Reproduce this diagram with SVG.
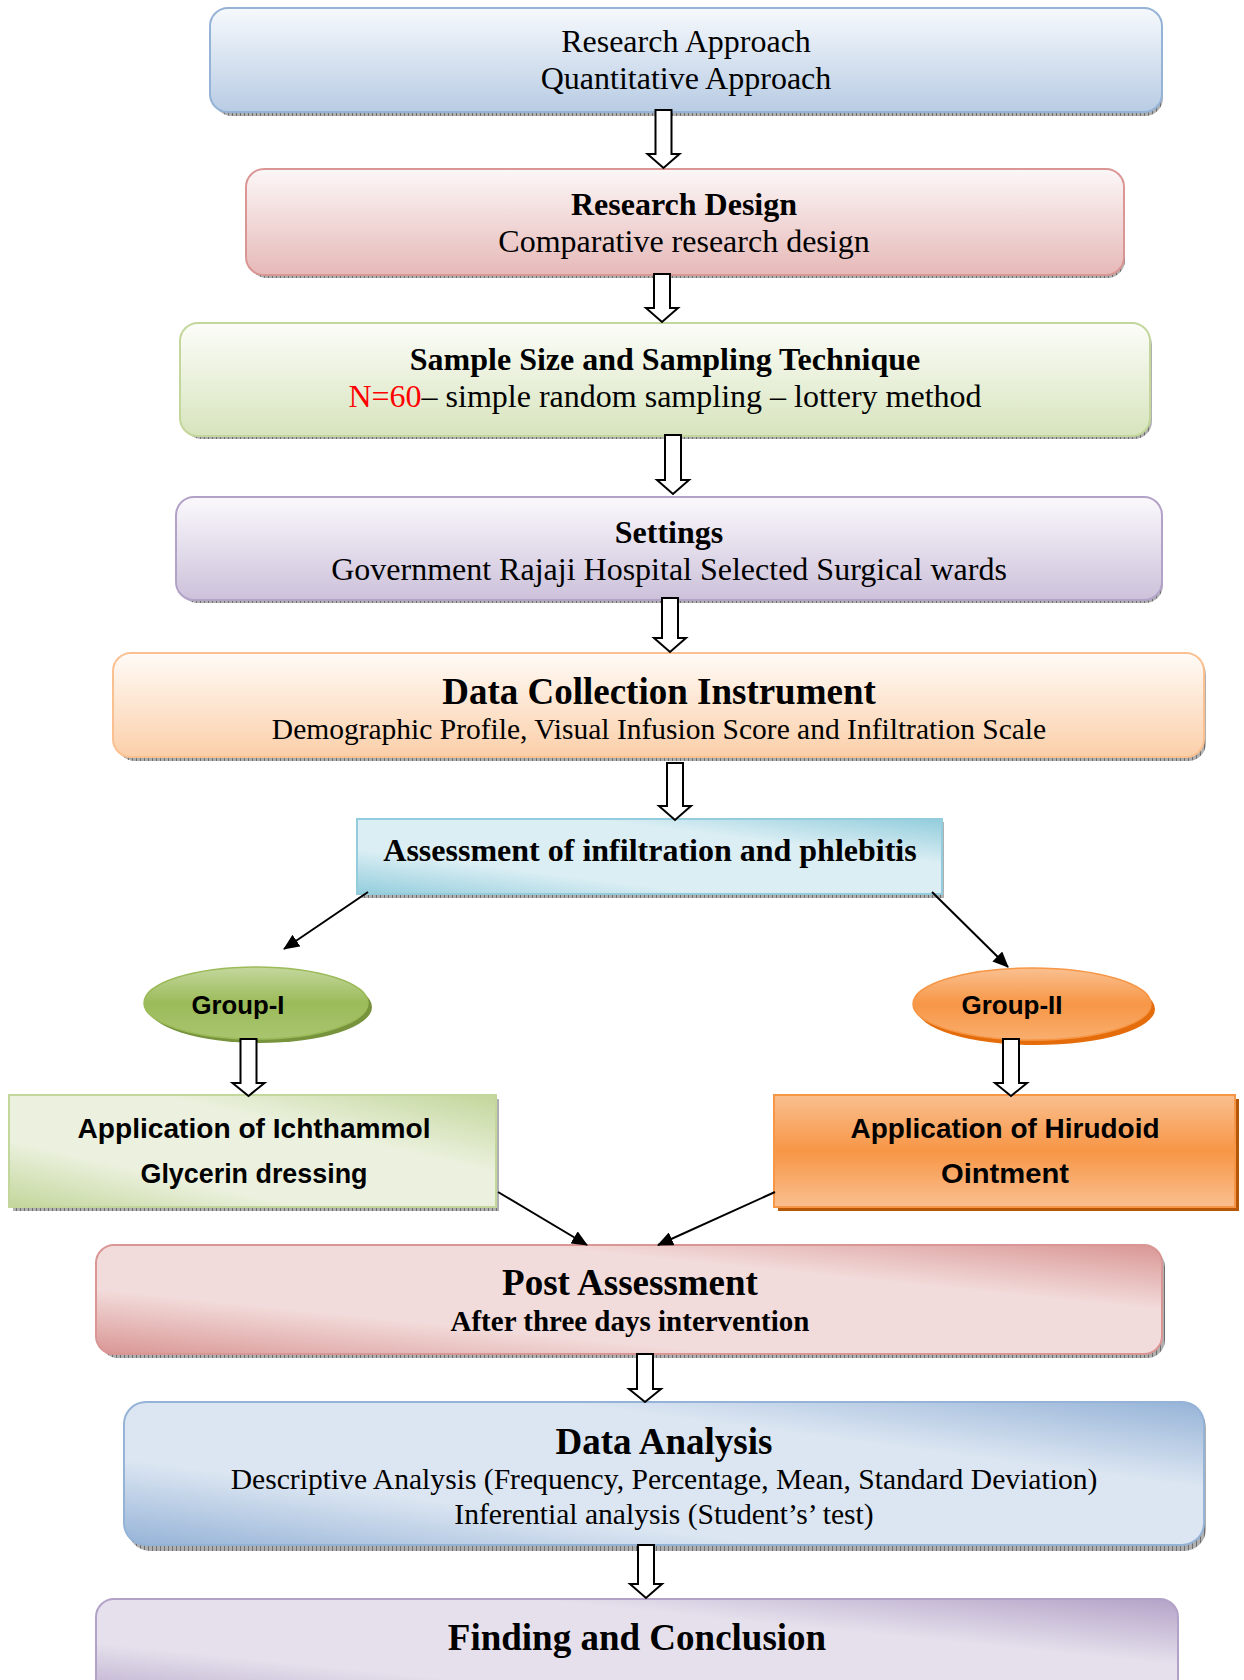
<svg xmlns="http://www.w3.org/2000/svg" width="1244" height="1680" viewBox="0 0 1244 1680">
<defs>
<pattern id="hatch" width="4" height="4" patternUnits="userSpaceOnUse">
<rect width="4" height="4" fill="#b0b0b0"/>
<rect width="1" height="4" fill="#6e6e6e"/>
</pattern>
<linearGradient id="gBlueV" x1="0" y1="0" x2="0" y2="1"><stop offset="0" stop-color="#f6f9fc"/><stop offset="1" stop-color="#b8cce4"/></linearGradient>
<linearGradient id="gRedV" x1="0" y1="0" x2="0" y2="1"><stop offset="0" stop-color="#fcf7f7"/><stop offset="1" stop-color="#e6b9b8"/></linearGradient>
<linearGradient id="gGreenV" x1="0" y1="0" x2="0" y2="1"><stop offset="0" stop-color="#fcfdf9"/><stop offset="1" stop-color="#d7e4bd"/></linearGradient>
<linearGradient id="gPurpV" x1="0" y1="0" x2="0" y2="1"><stop offset="0" stop-color="#fbf9fd"/><stop offset="1" stop-color="#ccc1da"/></linearGradient>
<linearGradient id="gOrgV" x1="0" y1="0" x2="0" y2="1"><stop offset="0" stop-color="#fffbf7"/><stop offset="1" stop-color="#fbcfa9"/></linearGradient>
<linearGradient id="gTeal" x1="0" y1="1" x2="1" y2="0"><stop offset="0" stop-color="#92cddc"/><stop offset="0.3" stop-color="#dbeef4"/><stop offset="0.7" stop-color="#dbeef4"/><stop offset="1" stop-color="#92cddc"/></linearGradient>
<linearGradient id="gG1" x1="0" y1="0" x2="0" y2="1"><stop offset="0" stop-color="#c4d79e"/><stop offset="0.5" stop-color="#9bbb59"/><stop offset="1" stop-color="#a9c56f"/></linearGradient>
<linearGradient id="gG2" x1="0" y1="0" x2="0" y2="1"><stop offset="0" stop-color="#fac090"/><stop offset="0.5" stop-color="#f79646"/><stop offset="1" stop-color="#f9ae6e"/></linearGradient>
<linearGradient id="gGreenD" x1="0" y1="1" x2="1" y2="0"><stop offset="0" stop-color="#c3d69b"/><stop offset="0.3" stop-color="#ebf1de"/><stop offset="0.65" stop-color="#ebf1de"/><stop offset="1" stop-color="#c3d69b"/></linearGradient>
<linearGradient id="gOrgBox" x1="0" y1="0" x2="0" y2="1"><stop offset="0" stop-color="#fabf8f"/><stop offset="0.5" stop-color="#f79646"/><stop offset="1" stop-color="#fabf8f"/></linearGradient>
<linearGradient id="gRedD" x1="0" y1="1" x2="1" y2="0"><stop offset="0" stop-color="#d99694"/><stop offset="0.3" stop-color="#f2dcdb"/><stop offset="0.7" stop-color="#f2dcdb"/><stop offset="1" stop-color="#d99694"/></linearGradient>
<linearGradient id="gBlueD" x1="0" y1="1" x2="1" y2="0"><stop offset="0" stop-color="#95b3d7"/><stop offset="0.3" stop-color="#dce6f2"/><stop offset="0.7" stop-color="#dce6f2"/><stop offset="1" stop-color="#95b3d7"/></linearGradient>
<linearGradient id="gPurpD" x1="0" y1="1" x2="1" y2="0"><stop offset="0" stop-color="#b3a2c7"/><stop offset="0.3" stop-color="#e5e0ec"/><stop offset="0.7" stop-color="#e5e0ec"/><stop offset="1" stop-color="#b3a2c7"/></linearGradient>
<marker id="ah" markerWidth="16" markerHeight="14" refX="15" refY="7" orient="auto" markerUnits="userSpaceOnUse" viewBox="0 0 16 14">
<path d="M0,0 L16,7 L0,14 z" fill="#000"/>
</marker>
</defs>
<style>
.serif{font-family:"Liberation Serif","Times New Roman",serif;fill:#000;text-anchor:middle}
.b{font-weight:bold}
.sans{font-family:"Liberation Sans",Arial,sans-serif;font-weight:bold;fill:#000;text-anchor:middle}
.blk{fill:#fff;stroke:#000;stroke-width:2}
.ln{stroke:#000;stroke-width:2;fill:none}
.sh{fill:url(#hatch)}
</style>
<rect width="1244" height="1680" fill="#fff"/>

<g id="n1">
<rect class="sh" x="214" y="12" width="949" height="104" rx="18"/>
<rect x="210" y="8" width="952" height="104" rx="18" fill="url(#gBlueV)" stroke="#95b3d7" stroke-width="2"/>
<text class="serif" x="686" y="52" font-size="32">Research Approach</text>
<text class="serif" x="686" y="89" font-size="32">Quantitative Approach</text>
</g>

<g id="n2">
<rect class="sh" x="249" y="173" width="876" height="105" rx="18"/>
<rect x="246" y="169" width="878" height="106" rx="18" fill="url(#gRedV)" stroke="#d99694" stroke-width="2"/>
<text class="serif b" x="684" y="215" font-size="32">Research Design</text>
<text class="serif" x="684" y="252" font-size="32">Comparative research design</text>
</g>

<g id="n3">
<rect class="sh" x="184" y="327" width="968" height="112" rx="18"/>
<rect x="180" y="323" width="970" height="113" rx="18" fill="url(#gGreenV)" stroke="#c3d69b" stroke-width="2"/>
<text class="serif b" x="665" y="370" font-size="32">Sample Size and Sampling Technique</text>
<text class="serif" x="665" y="407" font-size="32"><tspan fill="#ff0000">N=60</tspan>– simple random sampling – lottery method</text>
</g>

<g id="n4">
<rect class="sh" x="180" y="501" width="983" height="102" rx="18"/>
<rect x="176" y="497" width="986" height="103" rx="18" fill="url(#gPurpV)" stroke="#b3a2c7" stroke-width="2"/>
<text class="serif b" x="669" y="543" font-size="32">Settings</text>
<text class="serif" x="669" y="580" font-size="32">Government Rajaji Hospital Selected Surgical wards</text>
</g>

<g id="n5">
<rect class="sh" x="117" y="657" width="1089" height="104" rx="18"/>
<rect x="113" y="653" width="1091" height="104" rx="18" fill="url(#gOrgV)" stroke="#fac090" stroke-width="2"/>
<text class="serif b" x="659" y="704" font-size="37">Data Collection Instrument</text>
<text class="serif" x="659" y="739" font-size="29.5">Demographic Profile, Visual Infusion Score and Infiltration Scale</text>
</g>

<g id="n6">
<rect class="sh" x="361" y="822" width="583" height="76"/>
<rect x="357" y="819" width="585" height="75" fill="url(#gTeal)" stroke="#93cddd" stroke-width="2"/>
<text class="serif b" x="650" y="861" font-size="32">Assessment of infiltration and phlebitis</text>
</g>

<g id="n7">
<ellipse cx="260" cy="1007" rx="112" ry="36" fill="#77933c"/>
<ellipse cx="256" cy="1003" rx="112" ry="36" fill="url(#gG1)" stroke="#9bbb59" stroke-width="1.5"/>
<text class="sans" x="238" y="1014" font-size="26" textLength="93" lengthAdjust="spacingAndGlyphs">Group-I</text>
</g>

<g id="n8">
<ellipse cx="1036" cy="1009" rx="119" ry="36" fill="#e46c0a"/>
<ellipse cx="1032" cy="1004" rx="119" ry="36" fill="url(#gG2)" stroke="#f79646" stroke-width="1.5"/>
<text class="sans" x="1012" y="1014" font-size="26" textLength="101" lengthAdjust="spacingAndGlyphs">Group-II</text>
</g>

<g id="n9">
<rect class="sh" x="13" y="1099" width="486" height="112"/>
<rect x="9" y="1095" width="487" height="112" fill="url(#gGreenD)" stroke="#c3d69b" stroke-width="2"/>
<text class="sans" x="254" y="1138" font-size="28" textLength="353" lengthAdjust="spacingAndGlyphs">Application of Ichthammol</text>
<text class="sans" x="254" y="1183" font-size="28" textLength="227" lengthAdjust="spacingAndGlyphs">Glycerin dressing</text>
</g>

<g id="n10">
<rect x="778" y="1099" width="461" height="112" fill="#b65708"/>
<rect x="774" y="1095" width="461" height="112" fill="url(#gOrgBox)" stroke="#f79646" stroke-width="2"/>
<text class="sans" x="1005" y="1138" font-size="28" textLength="309" lengthAdjust="spacingAndGlyphs">Application of Hirudoid</text>
<text class="sans" x="1005" y="1183" font-size="28" textLength="128" lengthAdjust="spacingAndGlyphs">Ointment</text>
</g>

<g id="n11">
<rect class="sh" x="100" y="1249" width="1065" height="109" rx="18"/>
<rect x="96" y="1245" width="1066" height="109" rx="18" fill="url(#gRedD)" stroke="#d99694" stroke-width="2"/>
<text class="serif b" x="630" y="1295" font-size="37">Post Assessment</text>
<text class="serif b" x="630" y="1331" font-size="29">After three days intervention</text>
</g>

<g id="n12">
<rect class="sh" x="128" y="1406" width="1078" height="145" rx="22"/>
<rect x="124" y="1402" width="1080" height="143" rx="22" fill="url(#gBlueD)" stroke="#95b3d7" stroke-width="2"/>
<text class="serif b" x="664" y="1454" font-size="37">Data Analysis</text>
<text class="serif" x="664" y="1489" font-size="29.6">Descriptive Analysis (Frequency, Percentage, Mean, Standard Deviation)</text>
<text class="serif" x="664" y="1524" font-size="29.6">Inferential analysis (Student’s’ test)</text>
</g>

<g id="n13">
<rect x="96" y="1599" width="1082" height="110" rx="18" fill="url(#gPurpD)" stroke="#b3a2c7" stroke-width="2"/>
<text class="serif b" x="637" y="1650" font-size="37">Finding and Conclusion</text>
</g>

<g id="connectors">
<polygon class="blk" points="655.5,110 671.5,110 671.5,154 679.5,154 663.5,168 647.5,154 655.5,154"/>
<polygon class="blk" points="654,274 670,274 670,308 678,308 662,322 646,308 654,308"/>
<polygon class="blk" points="665,435 681,435 681,480 689,480 673,494 657,480 665,480"/>
<polygon class="blk" points="662,598 678,598 678,638 686,638 670,652 654,638 662,638"/>
<polygon class="blk" points="667,763 683,763 683,806 691,806 675,820 659,806 667,806"/>
<polygon class="blk" points="240.5,1039 256.5,1039 256.5,1083 264.5,1083 248.5,1096 232.5,1083 240.5,1083"/>
<polygon class="blk" points="1003,1039 1019,1039 1019,1083 1027,1083 1011,1096 995,1083 1003,1083"/>
<polygon class="blk" points="637,1354 653,1354 653,1389 661,1389 645,1402 629,1389 637,1389"/>
<polygon class="blk" points="638,1545 654,1545 654,1584 662,1584 646,1598 630,1584 638,1584"/>
<line class="ln" x1="368" y1="892" x2="284" y2="949" marker-end="url(#ah)"/>
<line class="ln" x1="932" y1="892" x2="1008" y2="967" marker-end="url(#ah)"/>
<line class="ln" x1="498" y1="1192" x2="587" y2="1245" marker-end="url(#ah)"/>
<line class="ln" x1="775" y1="1192" x2="658" y2="1245" marker-end="url(#ah)"/>
</g>
</svg>
